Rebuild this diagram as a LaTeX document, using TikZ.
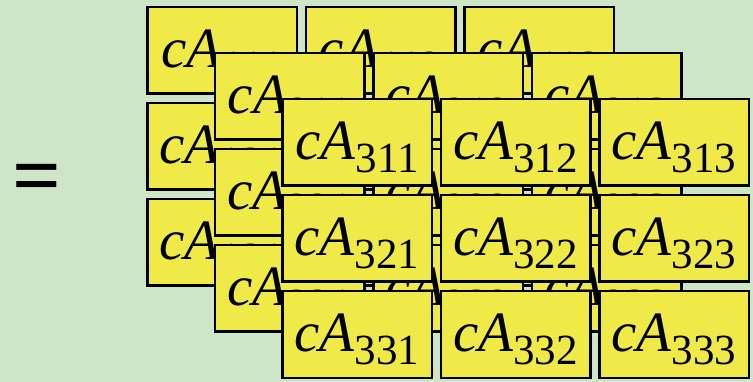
\documentclass[tikz,border=0pt]{standalone}
\usepackage{fontspec}
\setmainfont{Liberation Serif}
\definecolor{bggreen}{RGB}{206,229,200}
\definecolor{boxyellow}{RGB}{239,234,72}
\newcommand\cAlab[1]{\fontsize{57}{57}\selectfont\textit{cA}\raisebox{-13pt}{\fontsize{43}{43}\selectfont #1}}
\tikzset{
  cell/.style={draw=black, fill=boxyellow, line width=2.5pt, rectangle,
    minimum width=149.5pt, minimum height=86.5pt, inner sep=0pt,
    text height=45pt, text depth=10pt, align=center},
}
\begin{document}
\begin{tikzpicture}[x=1pt,y=1pt]
\fill[bggreen] (0,0) rectangle (753,-382);
\useasboundingbox (0,0) rectangle (753,-382);
\node[font=\fontsize{86}{86}\selectfont\bfseries, inner sep=0pt] (eq) at (37,-184) {=};
\foreach \k in {1,2,3}{
  \foreach \i in {1,2,3}{
    \foreach \j in {1,2,3}{
      \pgfmathsetmacro{\cx}{222+67.5*(\k-1)+158.5*(\j-1)}
      \pgfmathsetmacro{\cy}{-(50.5+46*(\k-1)+96*(\i-1))}
      \node[cell] (c\k\i\j) at (\cx,\cy) {\cAlab{\k\i\j}};
    }
  }
}
\end{tikzpicture}
\end{document}
